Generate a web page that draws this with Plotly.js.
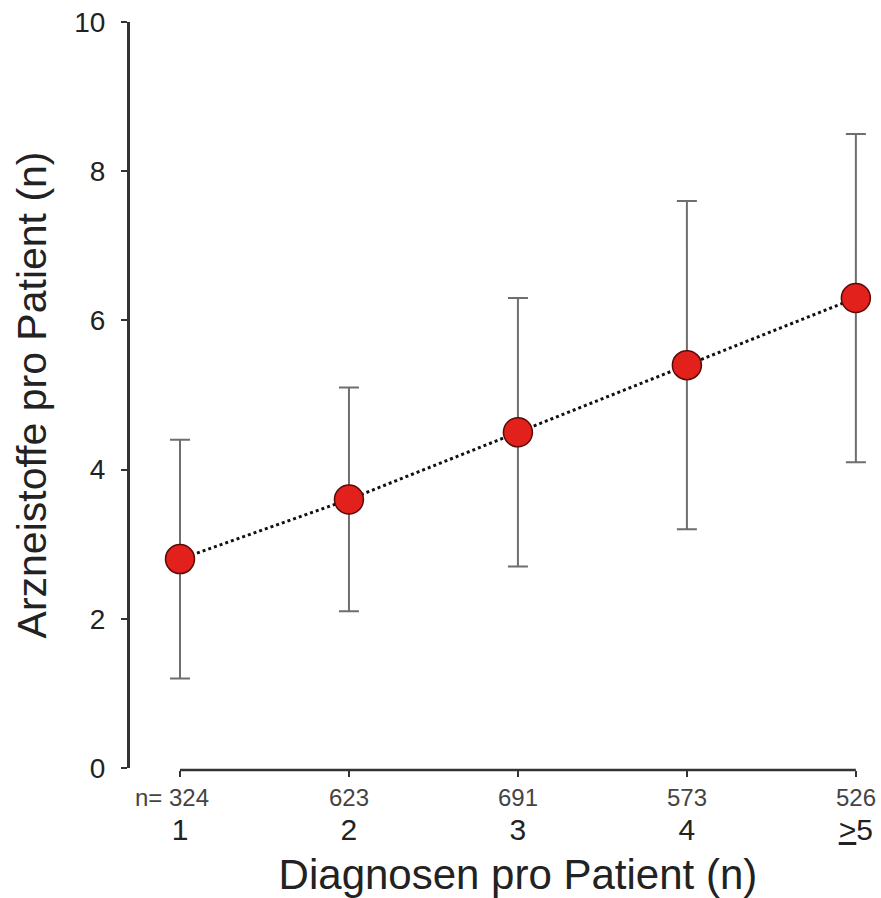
<!DOCTYPE html>
<html>
<head>
<meta charset="utf-8">
<script src="https://cdn.plot.ly/plotly-3.0.1.min.js"></script>
<style>html,body{margin:0;padding:0;background:#fff;}</style>
</head>
<body>
<div id="chart" style="width:881px;height:898px;"></div>
<script>
// Data
const categories = [1, 2, 3, 4, 5];
const categoryLabels = ['1', '2', '3', '4', '<u>&gt;</u>5'];
const nPatients = ['324', '623', '691', '573', '526'];
const meanDrugs = [2.8, 3.6, 4.5, 5.4, 6.3];
const sdDrugs = [1.6, 1.5, 1.8, 2.2, 2.2];
const yTicks = [0, 2, 4, 6, 8, 10];

const FONT = 'Liberation Sans, Arial, Helvetica, sans-serif';

const trace = {
  type: 'scatter',
  mode: 'lines+markers',
  x: categories,
  y: meanDrugs,
  cliponaxis: false,
  line: {color: '#111', width: 3, dash: 'dot'},
  marker: {size: 29, color: '#e3211c', line: {color: '#5a0a08', width: 1.5}},
  error_y: {type: 'data', array: sdDrugs, visible: true, color: '#6e6e6e', thickness: 2, width: 10},
  hoverinfo: 'skip'
};

const annotations = nPatients.map((n, i) => ({
  x: categories[i], y: 0, xref: 'x', yref: 'y',
  text: n, showarrow: false, xanchor: 'center', yanchor: 'middle',
  yshift: -30, xshift: i === 0 ? 9 : 0,
  font: {family: FONT, size: 24, color: '#444'}
}));
annotations.push({
  x: categories[0], y: 0, xref: 'x', yref: 'y',
  text: 'n=', showarrow: false, xanchor: 'right', yanchor: 'middle',
  yshift: -30, xshift: -16,
  font: {family: FONT, size: 24, color: '#444'}
});

// x-axis baseline spanning only the category range (as in the original)
const shapes = [{
  type: 'line', xref: 'x', yref: 'paper',
  x0: categories[0], x1: categories[categories.length - 1], y0: 0, y1: 0,
  line: {color: '#333', width: 2.5}
}];

const layout = {
  width: 881, height: 898,
  margin: {l: 128, r: 15, t: 22, b: 128, pad: 0},
  paper_bgcolor: '#fff', plot_bgcolor: '#fff',
  showlegend: false,
  font: {family: FONT, color: '#222'},
  xaxis: {
    domain: [0.0567, 1],
    range: [0.94, 5.06],
    anchor: 'free', position: 0,
    tickvals: categories, ticktext: categoryLabels,
    tickfont: {family: FONT, size: 30, color: '#222'},
    ticks: 'outside', ticklen: 6, tickwidth: 2, tickcolor: '#333',
    ticklabelstandoff: 27,
    showline: false,
    showgrid: false, zeroline: false,
    title: {text: 'Diagnosen pro Patient (n)', font: {family: FONT, size: 42, color: '#222'}, standoff: 16},
    automargin: false, fixedrange: true
  },
  yaxis: {
    domain: [0.0027, 1],
    range: [0, 10],
    anchor: 'free', position: 0,
    tickvals: yTicks,
    tickfont: {family: FONT, size: 28, color: '#222'},
    ticks: 'outside', ticklen: 6, tickwidth: 2, tickcolor: '#333',
    ticklabelstandoff: 10,
    showline: true, linecolor: '#333', linewidth: 2.5,
    showgrid: false, zeroline: false,
    title: {text: 'Arzneistoffe pro Patient (n)', font: {family: FONT, size: 41, color: '#222'}, standoff: 14},
    automargin: false, fixedrange: true
  },
  shapes: shapes,
  annotations: annotations
};

Plotly.newPlot('chart', [trace], layout, {displayModeBar: false, staticPlot: true});
</script>
</body>
</html>
